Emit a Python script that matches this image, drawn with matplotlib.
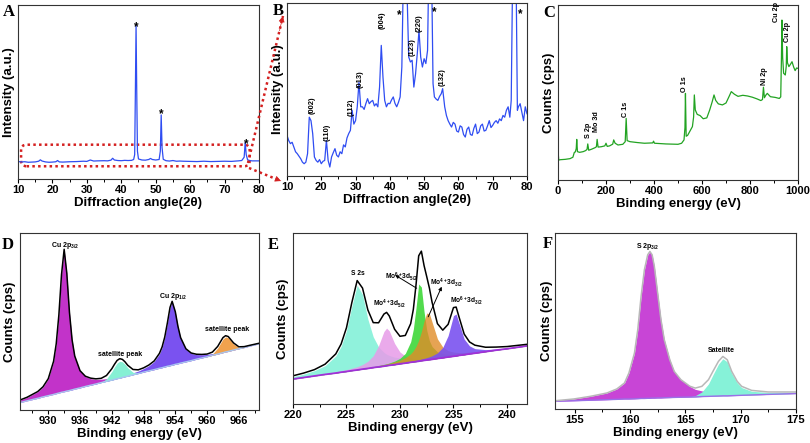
import matplotlib
matplotlib.use("Agg")
import matplotlib.pyplot as plt
from matplotlib.patches import FancyBboxPatch, FancyArrowPatch
from matplotlib.lines import Line2D
from matplotlib.ticker import MultipleLocator

plt.rcParams['font.family'] = ['Liberation Sans', 'DejaVu Sans']
plt.rcParams['font.weight'] = 'bold'
plt.rcParams['axes.labelweight'] = 'bold'
plt.rcParams['mathtext.fontset'] = 'custom'
plt.rcParams['mathtext.rm'] = 'Liberation Sans:bold'
plt.rcParams['mathtext.it'] = 'Liberation Sans:bold'
plt.rcParams['mathtext.bf'] = 'Liberation Sans:bold'
plt.rcParams['mathtext.default'] = 'rm'

# ---------------- A: full XRD pattern ----------------
xrd_full_x = [10, 11, 12, 13, 14, 15, 16, 16.5, 17, 18,
              19, 20, 21, 21.5, 22, 23, 25, 27, 29, 30,
              31, 32, 33, 35, 36, 37, 37.5, 38, 39, 40,
              41, 42, 43, 43.6, 43.9, 44.1, 44.3, 44.5, 44.7, 45.0,
              46, 47, 48, 48.5, 49, 50, 51, 51.35, 51.6, 51.85,
              52.2, 53, 54, 55, 56, 57, 58, 60, 62, 64,
              66, 68, 70, 72, 74, 75, 75.7, 76.0, 76.3, 76.7,
              77.3, 78, 79, 80]
xrd_full_y = [10.0, 9.8, 9.9, 9.6, 9.7, 9.8, 10.2, 11.0, 10.3, 9.8,
              9.6, 9.7, 9.9, 10.6, 9.8, 9.7, 9.9, 10.0, 10.2, 10.1,
              10.9, 10.3, 10.4, 10.5, 10.4, 10.8, 11.9, 10.9, 10.6, 10.5,
              10.7, 10.6, 10.7, 11.2, 14.0, 50.0, 88.5, 50.0, 16.0, 11.5,
              10.9, 10.8, 11.2, 11.8, 11.2, 10.9, 11.2, 16.0, 36.8, 18.0,
              11.3, 10.5, 10.3, 10.6, 10.2, 10.3, 10.2, 10.1, 10.0, 10.2,
              10.0, 10.1, 10.2, 10.1, 10.4, 10.6, 12.5, 21.0, 14.0, 11.0,
              10.6, 10.4, 10.4, 10.4]
star_a_x = [44.4, 51.7, 76.2]
star_a_y = [87.5, 37.0, 20.0]

# ---------------- B: zoomed XRD pattern ----------------
xrd_zoom_x = [10, 10.5, 11, 11.5, 12, 12.5, 13, 13.5, 14, 14.5,
              15, 15.5, 16, 16.5, 17, 17.5, 18, 18.5, 19, 19.5,
              20, 20.5, 21, 21.5, 22, 22.5, 23, 23.5, 24, 24.5,
              25, 25.5, 26, 26.5, 27, 27.5, 28, 28.5, 29, 29.5,
              30, 30.5, 31, 31.5, 32, 32.5, 33, 33.5, 34, 34.5,
              35, 35.5, 36, 36.5, 37, 37.5, 38, 38.5, 39, 39.5,
              40, 40.5, 41, 41.5, 42, 42.5, 43, 43.5, 43.8, 44.2,
              44.7, 45.1, 45.5, 46, 46.5, 47, 47.5, 48, 48.5, 49,
              49.5, 50, 50.5, 51, 51.2, 51.5, 52.0, 52.3, 52.6, 53,
              53.5, 54, 54.5, 55, 55.4, 56, 56.5, 57, 57.5, 58,
              58.5, 59, 59.5, 60, 60.5, 61, 61.5, 62, 62.5, 63,
              63.5, 64, 64.5, 65, 65.5, 66, 66.5, 67, 67.5, 68,
              68.5, 69, 69.5, 70, 70.5, 71, 71.5, 72, 72.5, 73,
              73.5, 74, 74.5, 75, 75.4, 75.7, 76.1, 76.6, 76.9, 77.2,
              77.5, 78, 78.5, 79, 79.5, 80]
xrd_zoom_y = [23.5, 20.5, 18.7, 19.5, 16.8, 14.0, 12.9, 11.5, 10.0, 8.0,
              7.1, 8.0, 12.9, 34.0, 32.0, 24.5, 11.0, 9.0, 8.0, 9.5,
              7.1, 8.5, 9.0, 20.6, 9.0, 5.2, 11.0, 13.5, 15.8, 12.0,
              11.0, 14.0, 12.9, 18.0, 16.8, 22.0, 24.5, 26.4, 38.0, 30.0,
              32.0, 40.0, 54.3, 40.0, 40.0, 38.5, 41.8, 44.7, 41.8, 43.0,
              43.7, 40.5, 41.8, 40.0, 51.4, 75.5, 57.0, 43.7, 40.0, 42.0,
              41.8, 44.0, 45.7, 42.0, 40.0, 42.5, 45.7, 63.0, 100, 130,
              130, 100, 68.8, 65.9, 66.9, 51.4, 59.0, 70.7, 84.0, 68.8,
              63.0, 67.8, 65.0, 72.6, 100, 130, 130, 100, 53.4, 45.7,
              44.5, 43.7, 46.0, 47.6, 50.5, 40.0, 35.0, 32.0, 30.0, 28.3,
              31.0, 30.0, 26.0, 25.4, 29.0, 28.3, 24.0, 22.5, 27.0, 28.3,
              24.0, 23.5, 27.5, 30.0, 24.5, 25.4, 29.0, 30.0, 26.0, 26.4,
              29.0, 32.0, 28.0, 29.3, 31.0, 32.0, 30.5, 33.0, 32.0, 35.0,
              34.0, 38.0, 40.0, 34.0, 43.7, 100, 130, 130, 100, 38.0,
              40.0, 41.8, 37.0, 32.0, 40.0, 36.0]
hkl_labels = ['(002)', '(110)', '(112)', '(013)', '(004)', '(123)', '(220)', '(132)']
hkl_x = [17.4, 21.8, 28.8, 31.3, 37.8, 46.4, 48.5, 55.3]
hkl_y = [41.0, 25.4, 39.5, 56.0, 90.0, 74.5, 88.6, 57.0]
star_b_x = [42.7, 53.0, 77.9]
star_b_y = [93.0, 94.5, 93.5]

# ---------------- C: XPS survey ----------------
survey_x = [0, 3, 10, 30, 50, 62, 68, 72, 76, 78,
            81, 90, 105, 115, 121, 124, 128, 140, 155, 160,
            163, 167, 180, 195, 200, 205, 215, 228, 232, 238,
            250, 270, 280, 284, 288, 300, 330, 360, 395, 398,
            402, 450, 500, 515, 525, 529, 531, 534, 540, 548,
            560, 565, 568, 572, 580, 592, 605, 620, 632, 642,
            650, 657, 668, 685, 700, 712, 722, 735, 750, 770,
            790, 810, 830, 845, 852, 856, 860, 866, 872, 885,
            905, 922, 928, 931, 933, 936, 940, 947, 951, 953,
            956, 962, 968, 975, 982, 988, 994, 1000]
survey_y = [17.0, 11.4, 11.6, 11.8, 12.2, 13.0, 15.8, 16.0, 18.0, 23.2,
            16.2, 15.8, 16.2, 16.8, 17.5, 20.6, 17.0, 17.6, 18.5, 19.0,
            23.2, 18.8, 19.0, 19.5, 21.0, 19.2, 19.5, 20.5, 22.9, 21.0,
            20.0, 20.4, 21.9, 35.2, 22.5, 21.9, 21.4, 21.0, 21.2, 22.2,
            21.0, 20.6, 20.4, 21.0, 22.9, 30.0, 49.5, 25.0, 25.5, 27.5,
            30.5, 36.0, 48.6, 40.0, 37.5, 36.8, 35.0, 35.5, 40.0, 44.5,
            48.6, 45.5, 43.5, 42.9, 44.0, 47.5, 50.5, 49.0, 47.8, 48.4,
            48.0, 47.3, 46.3, 45.4, 46.0, 53.0, 47.0, 48.5, 49.5, 47.6,
            47.2, 46.6, 47.5, 70.0, 91.4, 70.0, 61.0, 60.0, 65.0, 76.2,
            67.0, 64.8, 66.0, 67.6, 64.5, 62.5, 64.0, 63.8]
survey_labels = ['S 2p', 'Mo 3d', 'C 1s', 'O 1s', 'Ni 2p', 'Cu 2p', 'Cu 2p']
survey_lab_x = [125, 162, 282, 528, 861, 910, 958]
survey_lab_y = [28.2, 33.3, 40.6, 54.9, 59.6, 96.0, 84.4]

# ---------------- D: Cu 2p ----------------
cu_x = [924.7, 926, 928, 929, 930, 931, 931.5, 932, 932.5, 933,
        933.5, 934, 934.5, 935, 936, 937, 938, 939, 940, 941,
        942, 942.5, 943, 943.5, 944, 944.5, 945, 946, 947, 948,
        949, 950, 951, 951.5, 952, 952.5, 953, 953.4, 954, 954.5,
        955, 956, 957, 958, 959, 960, 961, 962, 962.5, 963,
        963.5, 964, 964.5, 965, 966, 967, 968, 969.8]
cu_base = [4.2, 5.2, 6.6, 7.4, 8.1, 8.8, 9.2, 9.6, 10.0, 10.3,
           10.7, 11.0, 11.4, 11.8, 12.5, 13.3, 14.0, 14.7, 15.5, 16.2,
           16.9, 17.3, 17.7, 18.0, 18.4, 18.8, 19.1, 19.9, 20.6, 21.4,
           22.1, 22.8, 23.6, 23.9, 24.3, 24.7, 25.0, 25.3, 25.8, 26.1,
           26.5, 27.2, 27.9, 28.7, 29.4, 30.1, 30.9, 31.6, 32.0, 32.4,
           32.8, 33.1, 33.5, 33.9, 34.6, 35.3, 36.1, 37.4]
cu_2p32 = [5.6, 7.1, 10.3, 13.0, 17.6, 27.4, 37.3, 53.6, 76.5, 90.6,
           77.2, 55.0, 39.5, 30.4, 22.0, 18.9, 17.7, 17.3, 17.4, 17.7,
           18.1, 18.3, 18.6, 18.9, 19.2, 19.5, 19.8, 20.5, 21.1, 21.8,
           22.5, 23.2, 23.9, 24.2, 24.6, 25.0, 25.3, 25.6, 26.0, 26.3,
           26.7, 27.4, 28.1, 28.9, 29.6, 30.3, 31.0, 31.7, 32.1, 32.5,
           32.9, 33.2, 33.6, 34.0, 34.7, 35.4, 36.2, 37.5]
cu_sat1 = [4.2, 5.2, 6.6, 7.4, 8.1, 8.8, 9.2, 9.6, 10.0, 10.3,
           10.7, 11.0, 11.4, 11.8, 12.5, 13.3, 14.0, 14.7, 15.7, 17.6,
           21.7, 24.3, 26.5, 27.5, 27.2, 25.8, 23.9, 21.3, 20.8, 21.4,
           22.1, 22.8, 23.6, 23.9, 24.3, 24.7, 25.0, 25.3, 25.8, 26.1,
           26.5, 27.2, 27.9, 28.7, 29.4, 30.1, 30.9, 31.6, 32.0, 32.4,
           32.8, 33.1, 33.5, 33.9, 34.6, 35.3, 36.1, 37.4]
cu_2p12 = [4.3, 5.3, 6.7, 7.5, 8.2, 8.9, 9.3, 9.7, 10.1, 10.4,
           10.8, 11.2, 11.6, 11.9, 12.7, 13.5, 14.3, 15.0, 15.8, 16.6,
           17.4, 17.8, 18.2, 18.6, 19.1, 19.5, 19.9, 21.0, 22.0, 23.4,
           25.0, 27.4, 31.7, 35.3, 40.9, 48.9, 57.7, 61.1, 55.3, 47.0,
           40.7, 34.4, 32.0, 31.3, 31.2, 31.4, 31.9, 32.4, 32.7, 33.0,
           33.4, 33.6, 34.0, 34.3, 35.0, 35.6, 36.4, 37.6]
cu_sat2 = [4.2, 5.2, 6.6, 7.4, 8.1, 8.8, 9.2, 9.6, 10.0, 10.3,
           10.7, 11.0, 11.4, 11.8, 12.5, 13.3, 14.0, 14.7, 15.5, 16.2,
           16.9, 17.3, 17.7, 18.0, 18.4, 18.8, 19.1, 19.9, 20.6, 21.4,
           22.1, 22.8, 23.6, 23.9, 24.3, 24.7, 25.0, 25.3, 25.8, 26.1,
           26.5, 27.2, 27.9, 28.7, 29.4, 30.2, 31.5, 35.0, 37.6, 40.1,
           41.3, 40.8, 39.1, 37.3, 35.3, 35.4, 36.1, 37.4]
cu_env = [5.7, 7.2, 10.4, 13.1, 17.7, 27.5, 37.4, 53.7, 76.5, 90.8,
          77.3, 55.2, 39.6, 30.5, 22.2, 19.1, 18.0, 17.6, 17.9, 19.5,
          23.3, 25.8, 28.0, 29.0, 28.6, 27.2, 25.3, 22.9, 22.7, 23.8,
          25.4, 27.7, 32.0, 35.6, 41.2, 49.2, 58.0, 61.4, 55.5, 47.2,
          40.9, 34.6, 32.2, 31.5, 31.4, 31.6, 32.7, 35.9, 38.4, 40.9,
          42.0, 41.5, 39.7, 37.9, 35.7, 35.8, 36.5, 37.7]
cu_labels = ['Cu 2p$_{3/2}$', 'satellite peak', 'Cu 2p$_{1/2}$', 'satellite peak']
cu_lab_x = [933.2, 943.5, 953.5, 963.7]
cu_lab_y = [93.2, 31.5, 64.0, 45.6]

# ---------------- E: Mo 3d / S 2s ----------------
mo_x = [220, 221, 222, 223, 224, 224.5, 225, 225.5, 226, 226.5,
        227, 227.5, 228, 228.5, 228.75, 229, 229.5, 230, 230.5, 231,
        231.25, 231.5, 231.75, 232, 232.25, 232.5, 232.75, 233, 233.5, 234,
        234.5, 235, 235.25, 235.5, 236, 236.5, 237, 238, 239, 240,
        242]
mo_base = [14.6, 15.5, 16.4, 17.3, 18.1, 18.6, 19.0, 19.5, 19.9, 20.4,
           20.8, 21.3, 21.7, 22.1, 22.4, 22.6, 23.0, 23.5, 23.9, 24.4,
           24.6, 24.8, 25.0, 25.3, 25.5, 25.7, 25.9, 26.1, 26.6, 27.0,
           27.5, 27.9, 28.1, 28.4, 28.8, 29.3, 29.7, 30.6, 31.5, 32.3,
           34.1]
s_2s = [16.0, 17.5, 19.5, 22.4, 28.1, 33.7, 42.9, 57.2, 69.5, 64.0,
        49.6, 39.3, 33.4, 30.2, 29.1, 28.4, 27.4, 26.9, 26.6, 26.6,
        26.6, 26.6, 26.7, 26.8, 26.9, 27.0, 27.1, 27.3, 27.6, 27.9,
        28.2, 28.6, 28.8, 29.0, 29.4, 29.8, 30.2, 31.0, 31.8, 32.6,
        34.3]
mo4_52 = [14.8, 15.8, 16.7, 17.7, 18.8, 19.5, 20.1, 20.9, 21.8, 23.1,
          25.0, 28.2, 34.1, 42.4, 44.4, 42.8, 35.4, 30.4, 28.1, 27.1,
          26.9, 26.7, 26.7, 26.7, 26.7, 26.8, 26.9, 27.0, 27.3, 27.6,
          27.9, 28.3, 28.5, 28.7, 29.1, 29.5, 29.9, 30.8, 31.6, 32.5,
          34.2]
mo_green = [14.7, 15.6, 16.5, 17.4, 18.3, 18.8, 19.3, 19.8, 20.3, 20.8,
            21.3, 21.9, 22.5, 23.2, 23.5, 24.0, 25.1, 26.7, 29.6, 36.4,
            43.8, 56.3, 70.2, 68.4, 54.1, 43.2, 37.0, 33.6, 30.5, 29.4,
            29.1, 29.1, 29.1, 29.2, 29.5, 29.8, 30.1, 30.9, 31.7, 32.5,
            34.2]
mo_orange = [14.7, 15.6, 16.5, 17.4, 18.4, 18.9, 19.3, 19.8, 20.3, 20.8,
             21.3, 21.8, 22.4, 23.0, 23.4, 23.7, 24.6, 25.6, 27.1, 29.4,
             31.2, 33.7, 37.3, 42.3, 48.5, 53.2, 52.8, 47.9, 38.1, 33.3,
             31.2, 30.4, 30.2, 30.1, 30.1, 30.3, 30.5, 31.1, 31.9, 32.6,
             34.3]
mo6_32 = [14.7, 15.6, 16.4, 17.3, 18.2, 18.7, 19.1, 19.6, 20.1, 20.5,
          21.0, 21.4, 21.9, 22.4, 22.6, 22.9, 23.4, 23.9, 24.4, 25.0,
          25.3, 25.6, 25.9, 26.3, 26.7, 27.1, 27.6, 28.2, 29.9, 33.1,
          40.0, 51.7, 52.6, 47.7, 38.0, 34.0, 32.4, 31.8, 32.2, 32.8,
          34.3]
mo_env = [16.5, 18.1, 20.1, 23.3, 29.3, 35.1, 44.6, 59.3, 72.2, 67.8,
          55.0, 47.6, 47.5, 52.6, 53.6, 51.5, 43.7, 39.6, 40.1, 47.0,
          55.4, 69.7, 86.7, 89.4, 81.0, 74.5, 67.8, 59.5, 47.0, 43.2,
          46.6, 56.4, 56.7, 51.3, 40.9, 36.3, 34.4, 33.2, 33.3, 33.6,
          35.0]
mo_labels = ['S 2s', 'Mo$^{4+}$3d$_{5/2}$', 'Mo$^{6+}$3d$_{5/2}$',
             'Mo$^{4+}$3d$_{3/2}$', 'Mo$^{6+}$3d$_{3/2}$']
mo_lab_x = [226.07, 228.97, 230.1, 234.35, 236.2]
mo_lab_y = [76.6, 58.5, 74.3, 70.8, 60.2]

# ---------------- F: S 2p ----------------
s_x = [153.2, 154.9, 156.4, 157.9, 158.8, 159.5, 159.9, 160.4, 160.7, 161.0,
       161.3, 161.6, 161.8, 162.0, 162.2, 162.5, 162.8, 163.1, 163.6, 164.0,
       164.6, 165.4, 165.9, 166.5, 167.1, 167.5, 168.0, 168.4, 168.8, 169.2,
       169.7, 170.1, 171.0, 172.5, 175.0]
s_base = [4.4, 4.7, 5.0, 5.3, 5.5, 5.7, 5.7, 5.8, 5.9, 6.0,
          6.0, 6.1, 6.1, 6.2, 6.2, 6.3, 6.3, 6.4, 6.5, 6.6,
          6.7, 6.8, 6.9, 7.1, 7.2, 7.3, 7.4, 7.5, 7.5, 7.6,
          7.7, 7.8, 8.0, 8.3, 8.8]
s_2p32 = [4.7, 5.7, 7.2, 9.1, 11.4, 14.8, 20.5, 31.8, 45.1, 64.0,
          79.2, 87.7, 89.6, 87.7, 81.1, 65.9, 50.8, 39.4, 28.0, 21.4,
          16.7, 12.9, 11.2, 10.3, 9.6, 9.3, 9.0, 8.8, 8.7, 8.6,
          8.5, 8.5, 8.5, 8.6, 8.9]
s_sat = [4.4, 4.7, 5.0, 5.3, 5.5, 5.7, 5.7, 5.8, 5.9, 6.0,
         6.0, 6.1, 6.1, 6.2, 6.2, 6.3, 6.3, 6.4, 6.5, 6.6,
         6.7, 6.9, 7.6, 9.7, 14.3, 19.4, 25.5, 28.6, 26.8, 20.4,
         14.9, 12.2, 10.1, 9.4, 9.6]
s_env = [4.7, 5.7, 7.2, 9.1, 11.4, 14.8, 20.5, 31.8, 45.1, 64.0,
         79.2, 87.7, 89.6, 87.7, 81.1, 65.9, 50.8, 39.4, 28.0, 21.4,
         16.7, 13.0, 11.9, 12.9, 16.7, 21.4, 27.1, 29.9, 28.0, 21.4,
         15.7, 12.9, 10.6, 9.7, 9.7]
s_labels = ['S 2p$_{3/2}$', 'Satellite']
s_lab_x = [161.64, 168.27]
s_lab_y = [92.2, 33.5]


def style(ax, xlim, major, minor, xlabel, ylabel, ypad=2):
    ax.set_xlim(xlim)
    ax.set_ylim(0, 100)
    ax.set_yticks([])
    ax.xaxis.set_major_locator(MultipleLocator(major))
    ax.xaxis.set_minor_locator(MultipleLocator(minor))
    ax.tick_params(axis='x', which='major', direction='out', length=3, width=0.8,
                   labelsize=8, pad=1.5)
    ax.tick_params(axis='x', which='minor', direction='out', length=1.8, width=0.7)
    for s in ax.spines.values():
        s.set_linewidth(0.8)
        s.set_color('#333333')
    ax.set_xlabel(xlabel, fontsize=9.5, labelpad=1.0)
    ax.set_ylabel(ylabel, fontsize=9.5, labelpad=ypad)


fig = plt.figure(figsize=(8.1, 4.43), dpi=100)

axA = fig.add_axes([0.0222, 0.596, 0.2975, 0.3928])
axB = fig.add_axes([0.3543, 0.6027, 0.2963, 0.3905])
axC = fig.add_axes([0.6889, 0.5937, 0.2963, 0.395])
axD = fig.add_axes([0.0247, 0.0745, 0.295, 0.3995])
axE = fig.add_axes([0.3617, 0.088, 0.2889, 0.386])
axF = fig.add_axes([0.685, 0.0767, 0.2975, 0.397])

blue = '#2f4df2'

# A
axA.plot(xrd_full_x, xrd_full_y, color=blue, lw=0.9)
for x, y in zip(star_a_x, star_a_y):
    axA.text(x, y, '*', fontsize=8.5, ha='center', va='center')
box = FancyBboxPatch((10.9, 7.3), 66.4, 12.4, boxstyle='round,pad=0,rounding_size=1.6',
                     mutation_aspect=2.0, fill=False, edgecolor='#d42020', lw=1.8,
                     linestyle=(0, (1, 1.3)))
axA.add_patch(box)
style(axA, (10, 80), 10, 5, 'Diffraction angle(2θ)', 'Intensity (a.u.)')

# B
axB.plot(xrd_zoom_x, xrd_zoom_y, color=blue, lw=0.9)
for lab, x, y in zip(hkl_labels, hkl_x, hkl_y):
    axB.text(x, y, lab, fontsize=5.4, rotation=90, ha='center', va='center')
for x, y in zip(star_b_x, star_b_y):
    axB.text(x, y, '*', fontsize=8.5, ha='center', va='center')
style(axB, (10, 80), 10, 5, 'Diffraction angle(2θ)', 'Intensity (a.u.)')

# C
axC.plot(survey_x, survey_y, color='#22a322', lw=0.9)
for lab, x, y in zip(survey_labels, survey_lab_x, survey_lab_y):
    axC.text(x, y, lab, fontsize=5.2, rotation=90, ha='center', va='center')
style(axC, (0, 1000), 200, 100, 'Binding energy (eV)', 'Counts (cps)')

# D
axD.fill_between(cu_x, cu_base, cu_2p32, color='#c233c9', lw=0)
axD.fill_between(cu_x, cu_base, cu_2p12, color='#7a52f0', lw=0)
axD.fill_between(cu_x, cu_base, cu_sat1, color='#86f0d4', lw=0)
axD.fill_between(cu_x, cu_base, cu_sat2, color='#f0a24e', lw=0)
axD.plot(cu_x, cu_base, color='#a8c8f0', lw=1.0)
axD.plot(cu_x, cu_env, color='black', lw=1.1)
for lab, x, y in zip(cu_labels, cu_lab_x, cu_lab_y):
    axD.text(x, y, lab, fontsize=5, ha='center', va='center')
style(axD, (924.66, 969.8), 6, 3, 'Binding energy (eV)', 'Counts (cps)', ypad=3)
axD.set_xticks([930, 936, 942, 948, 954, 960, 966])

# E
axE.fill_between(mo_x, mo_base, s_2s, color='#8af2da', lw=0, alpha=0.95)
axE.fill_between(mo_x, mo_base, mo4_52, color='#e79be8', lw=0, alpha=0.85)
axE.fill_between(mo_x, mo_base, mo_green, color='#3fd83a', lw=0, alpha=0.9)
axE.fill_between(mo_x, mo_base, mo_orange, color='#e08c28', lw=0, alpha=0.8)
axE.fill_between(mo_x, mo_base, mo6_32, color='#7a52f0', lw=0, alpha=0.9)
axE.plot(mo_x, mo_base, color='#a030d8', lw=1.3)
axE.plot(mo_x, mo_env, color='black', lw=1.1)
for lab, x, y in zip(mo_labels, mo_lab_x, mo_lab_y):
    axE.text(x, y, lab, fontsize=4.8, ha='center', va='center')
axE.annotate('', xy=(229.55, 75.4), xytext=(231.56, 67.7),
             arrowprops=dict(arrowstyle='-|>', lw=0.7, color='black', mutation_scale=5,
                             shrinkA=0, shrinkB=0))
axE.annotate('', xy=(233.9, 68.6), xytext=(232.64, 51.0),
             arrowprops=dict(arrowstyle='-|>', lw=0.7, color='black', mutation_scale=5,
                             shrinkA=0, shrinkB=0))
style(axE, (220, 241.87), 5, 2.5, 'Binding energy (eV)', 'Counts (cps)', ypad=3)

# F
axF.fill_between(s_x, s_base, s_2p32, color='#c845d6', lw=0)
axF.fill_between(s_x, s_base, s_sat, color='#86f2d8', lw=0)
axF.plot(s_x, s_base, color='#9a70e8', lw=1.0)
axF.plot(s_x, s_env, color='#b8b8b8', lw=1.1)
for lab, x, y in zip(s_labels, s_lab_x, s_lab_y):
    axF.text(x, y, lab, fontsize=5, ha='center', va='center')
style(axF, (153.2, 175), 5, 2.5, 'Binding energy (eV)', 'Counts (cps)', ypad=1)

# panel letters
for lab, px, py in [('A', 3, 4), ('B', 273, 3), ('C', 543, 5),
                    ('D', 2, 237), ('E', 268, 237), ('F', 543, 236)]:
    fig.text(px / 810, 1 - py / 443, lab, fontsize=12, fontweight='bold',
             family='Liberation Serif', ha='left', va='top')

# red dotted connectors from A to B
red = '#d42020'
for (x0, y0), (x1, y1) in [((248, 163), (283, 16)), ((249, 168), (281, 181))]:
    p0 = (x0 / 810, 1 - y0 / 443)
    p1 = (x1 / 810, 1 - y1 / 443)
    fig.add_artist(Line2D([p0[0], p1[0]], [p0[1], p1[1]], transform=fig.transFigure,
                          color=red, lw=1.8, linestyle=(0, (1, 1.3)), zorder=10))
    pm = (p0[0] + 0.9 * (p1[0] - p0[0]), p0[1] + 0.9 * (p1[1] - p0[1]))
    fig.add_artist(FancyArrowPatch(pm, p1, transform=fig.transFigure, color=red,
                                   arrowstyle='-|>', mutation_scale=9, lw=0.5,
                                   shrinkA=0, shrinkB=0, zorder=11))

fig.savefig('out.png', dpi=100)
